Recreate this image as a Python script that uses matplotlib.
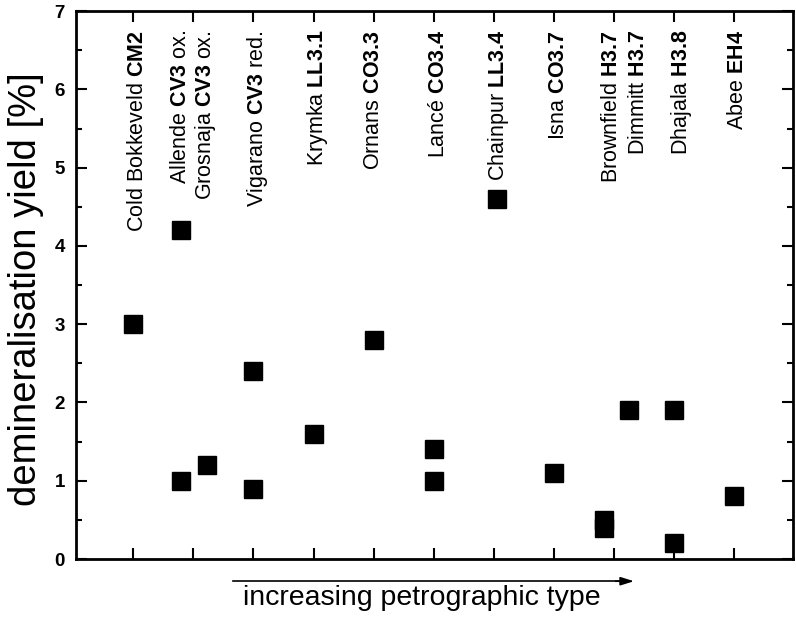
import matplotlib.pyplot as plt
from matplotlib.ticker import MultipleLocator

plt.rcParams['font.family'] = ['Liberation Sans', 'DejaVu Sans']
plt.rcParams['mathtext.fontset'] = 'custom'
plt.rcParams['mathtext.rm'] = 'Liberation Sans'
plt.rcParams['mathtext.bf'] = 'Liberation Sans:bold'

# meteorite names, class (printed bold) and trailing note
names = ['Cold Bokkeveld', 'Allende', 'Grosnaja', 'Vigarano', 'Krymka', 'Ornans',
         'Lancé', 'Chainpur', 'Isna', 'Brownfield', 'Dimmitt', 'Dhajala', 'Abee']
classes = ['CM2', 'CV3', 'CV3', 'CV3', 'LL3.1', 'CO3.3',
           'CO3.4', 'LL3.4', 'CO3.7', 'H3.7', 'H3.7', 'H3.8', 'EH4']
notes = ['', ' ox.', ' ox.', ' red.', '', '', '', '', '', '', '', '', '']
label_x = [1.07, 1.79, 2.21, 3.07, 4.07, 5.0, 6.08, 7.08, 8.07, 8.95, 9.4, 10.12, 11.05]

# petrographic position and demineralisation yield [%]
pos = [1.0, 1.8, 1.8, 2.22, 3.0, 3.0, 4.0, 5.0, 6.0, 6.0, 7.05, 8.0, 8.83, 8.83, 9.25, 10.0, 10.0, 11.0]
yld = [3.0, 4.2, 1.0, 1.2, 2.4, 0.9, 1.6, 2.8, 1.4, 1.0, 4.6, 1.1, 0.5, 0.4, 1.9, 1.9, 0.2, 0.8]

fig = plt.figure(figsize=(7.96, 6.17), dpi=100)
ax = fig.add_axes([0.0955, 0.094, 0.9005, 0.888])

ax.plot(pos, yld, 's', color='black', markersize=13, clip_on=False)

for x, n, c, s in zip(label_x, names, classes, notes):
    ax.text(x, 6.76, n + r' $\mathbf{' + c + '}$' + s, rotation=90,
            ha='center', va='top', fontsize=15.5)

ax.set_xlim(0.05, 11.97)
ax.set_ylim(0, 7)
ax.set_xticks(range(1, 12))
ax.set_xticklabels([])
ax.yaxis.set_major_locator(MultipleLocator(1))
ax.yaxis.set_minor_locator(MultipleLocator(0.5))
ax.tick_params(which='both', direction='in', top=True, right=True, width=1.5)
ax.tick_params(which='major', length=8, labelsize=13.5, pad=8)
ax.tick_params(which='minor', length=4)
for lbl in ax.get_yticklabels():
    lbl.set_fontweight('bold')
for sp in ax.spines.values():
    sp.set_linewidth(2)

fig.text(0.033, 0.532, 'demineralisation yield [%]', rotation=90,
         ha='center', va='center', fontsize=27.5)

fig.text(0.53, 0.03, 'increasing petrographic type', ha='center', va='center', fontsize=20.5)
fig.add_artist(plt.Line2D([0.293, 0.78], [0.058, 0.058], color='black', lw=1.2))
ax.annotate('', xy=(0.8, 0.058), xytext=(0.77, 0.058), xycoords='figure fraction',
            arrowprops=dict(arrowstyle='-|>,head_length=0.8,head_width=0.25',
                            color='black', lw=1.2))

fig.savefig('out.png', dpi=100)
